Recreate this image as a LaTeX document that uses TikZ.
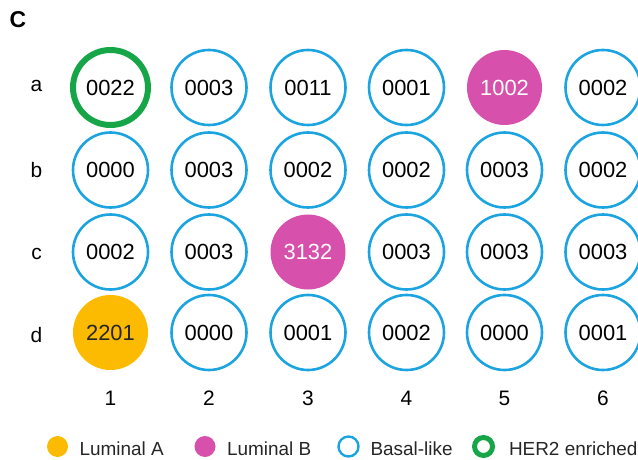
\documentclass[tikz,border=0pt]{standalone}
\usepackage{fontspec}
\setmainfont{Liberation Sans}
\definecolor{basal}{RGB}{28,164,224}
\definecolor{lumb}{RGB}{215,80,172}
\definecolor{luma}{RGB}{252,186,0}
\definecolor{hertwo}{RGB}{22,166,72}
\begin{document}
\begin{tikzpicture}[x=1bp,y=-1bp,
  cell/.style={circle,minimum size=75bp,inner sep=0pt,font=\fontsize{22}{24}\selectfont},
  basalcell/.style={cell,draw=basal,line width=2.6bp,text=black},
  lumbcell/.style={cell,fill=lumb,text=white},
  lumacell/.style={cell,fill=luma,text=black!85},
  hercell/.style={cell,draw=hertwo,line width=6bp,text=black},
  rowlab/.style={anchor=base,font=\fontsize{21}{24}\selectfont},
  collab/.style={anchor=base,font=\fontsize{21}{24}\selectfont},
  legtext/.style={anchor=base west,font=\fontsize{19}{22}\selectfont,text=black!85},
  legdot/.style={circle,minimum size=21bp,inner sep=0pt}
]
\useasboundingbox (0,0) rectangle (638,460);
\node[font=\bfseries\fontsize{23}{26}\selectfont] (title) at (18,20) {C};
% row labels
\node[rowlab] (ra) at (36.5,92) {a};
\node[rowlab] (rb) at (36.5,178) {b};
\node[rowlab] (rc) at (36.5,260) {c};
\node[rowlab] (rd) at (36.5,342) {d};
% row a
\node[hercell]   (a1) at (110.5,87.5) {0022};
\node[basalcell] (a2) at (209,87.5) {0003};
\node[basalcell] (a3) at (308,87.5) {0011};
\node[basalcell] (a4) at (406.5,87.5) {0001};
\node[lumbcell]  (a5) at (504.5,87.5) {1002};
\node[basalcell] (a6) at (603,87.5) {0002};
% row b
\node[basalcell] (b1) at (110.5,170) {0000};
\node[basalcell] (b2) at (209,170) {0003};
\node[basalcell] (b3) at (308,170) {0002};
\node[basalcell] (b4) at (406.5,170) {0002};
\node[basalcell] (b5) at (504.5,170) {0003};
\node[basalcell] (b6) at (603,170) {0002};
% row c
\node[basalcell] (c1) at (110.5,252) {0002};
\node[basalcell] (c2) at (209,252) {0003};
\node[lumbcell]  (c3) at (308,252) {3132};
\node[basalcell] (c4) at (406.5,252) {0003};
\node[basalcell] (c5) at (504.5,252) {0003};
\node[basalcell] (c6) at (603,252) {0003};
% row d
\node[lumacell]  (d1) at (110.5,332.5) {2201};
\node[basalcell] (d2) at (209,332.5) {0000};
\node[basalcell] (d3) at (308,332.5) {0001};
\node[basalcell] (d4) at (406.5,332.5) {0002};
\node[basalcell] (d5) at (504.5,332.5) {0000};
\node[basalcell] (d6) at (603,332.5) {0001};
% column labels
\node[collab] (k1) at (110.5,405) {1};
\node[collab] (k2) at (209,405) {2};
\node[collab] (k3) at (308,405) {3};
\node[collab] (k4) at (406.5,405) {4};
\node[collab] (k5) at (504.5,405) {5};
\node[collab] (k6) at (603,405) {6};
% legend
\node[legdot,fill=luma] (la) at (57.5,446.5) {};
\node[legtext] (lat) at (76,455) {Luminal A};
\node[legdot,fill=lumb] (lb) at (205,446.5) {};
\node[legtext] (lbt) at (223.5,455) {Luminal B};
\node[legdot,draw=basal,line width=2.4bp,minimum size=20bp] (lc) at (348.5,446.5) {};
\node[legtext] (lct) at (367,455) {Basal-like};
\node[legdot,draw=hertwo,line width=5bp,minimum size=18bp] (ld) at (483.5,446.5) {};
\node[legtext] (ldt) at (505.5,455) {HER2 enriched};
\end{tikzpicture}
\end{document}
